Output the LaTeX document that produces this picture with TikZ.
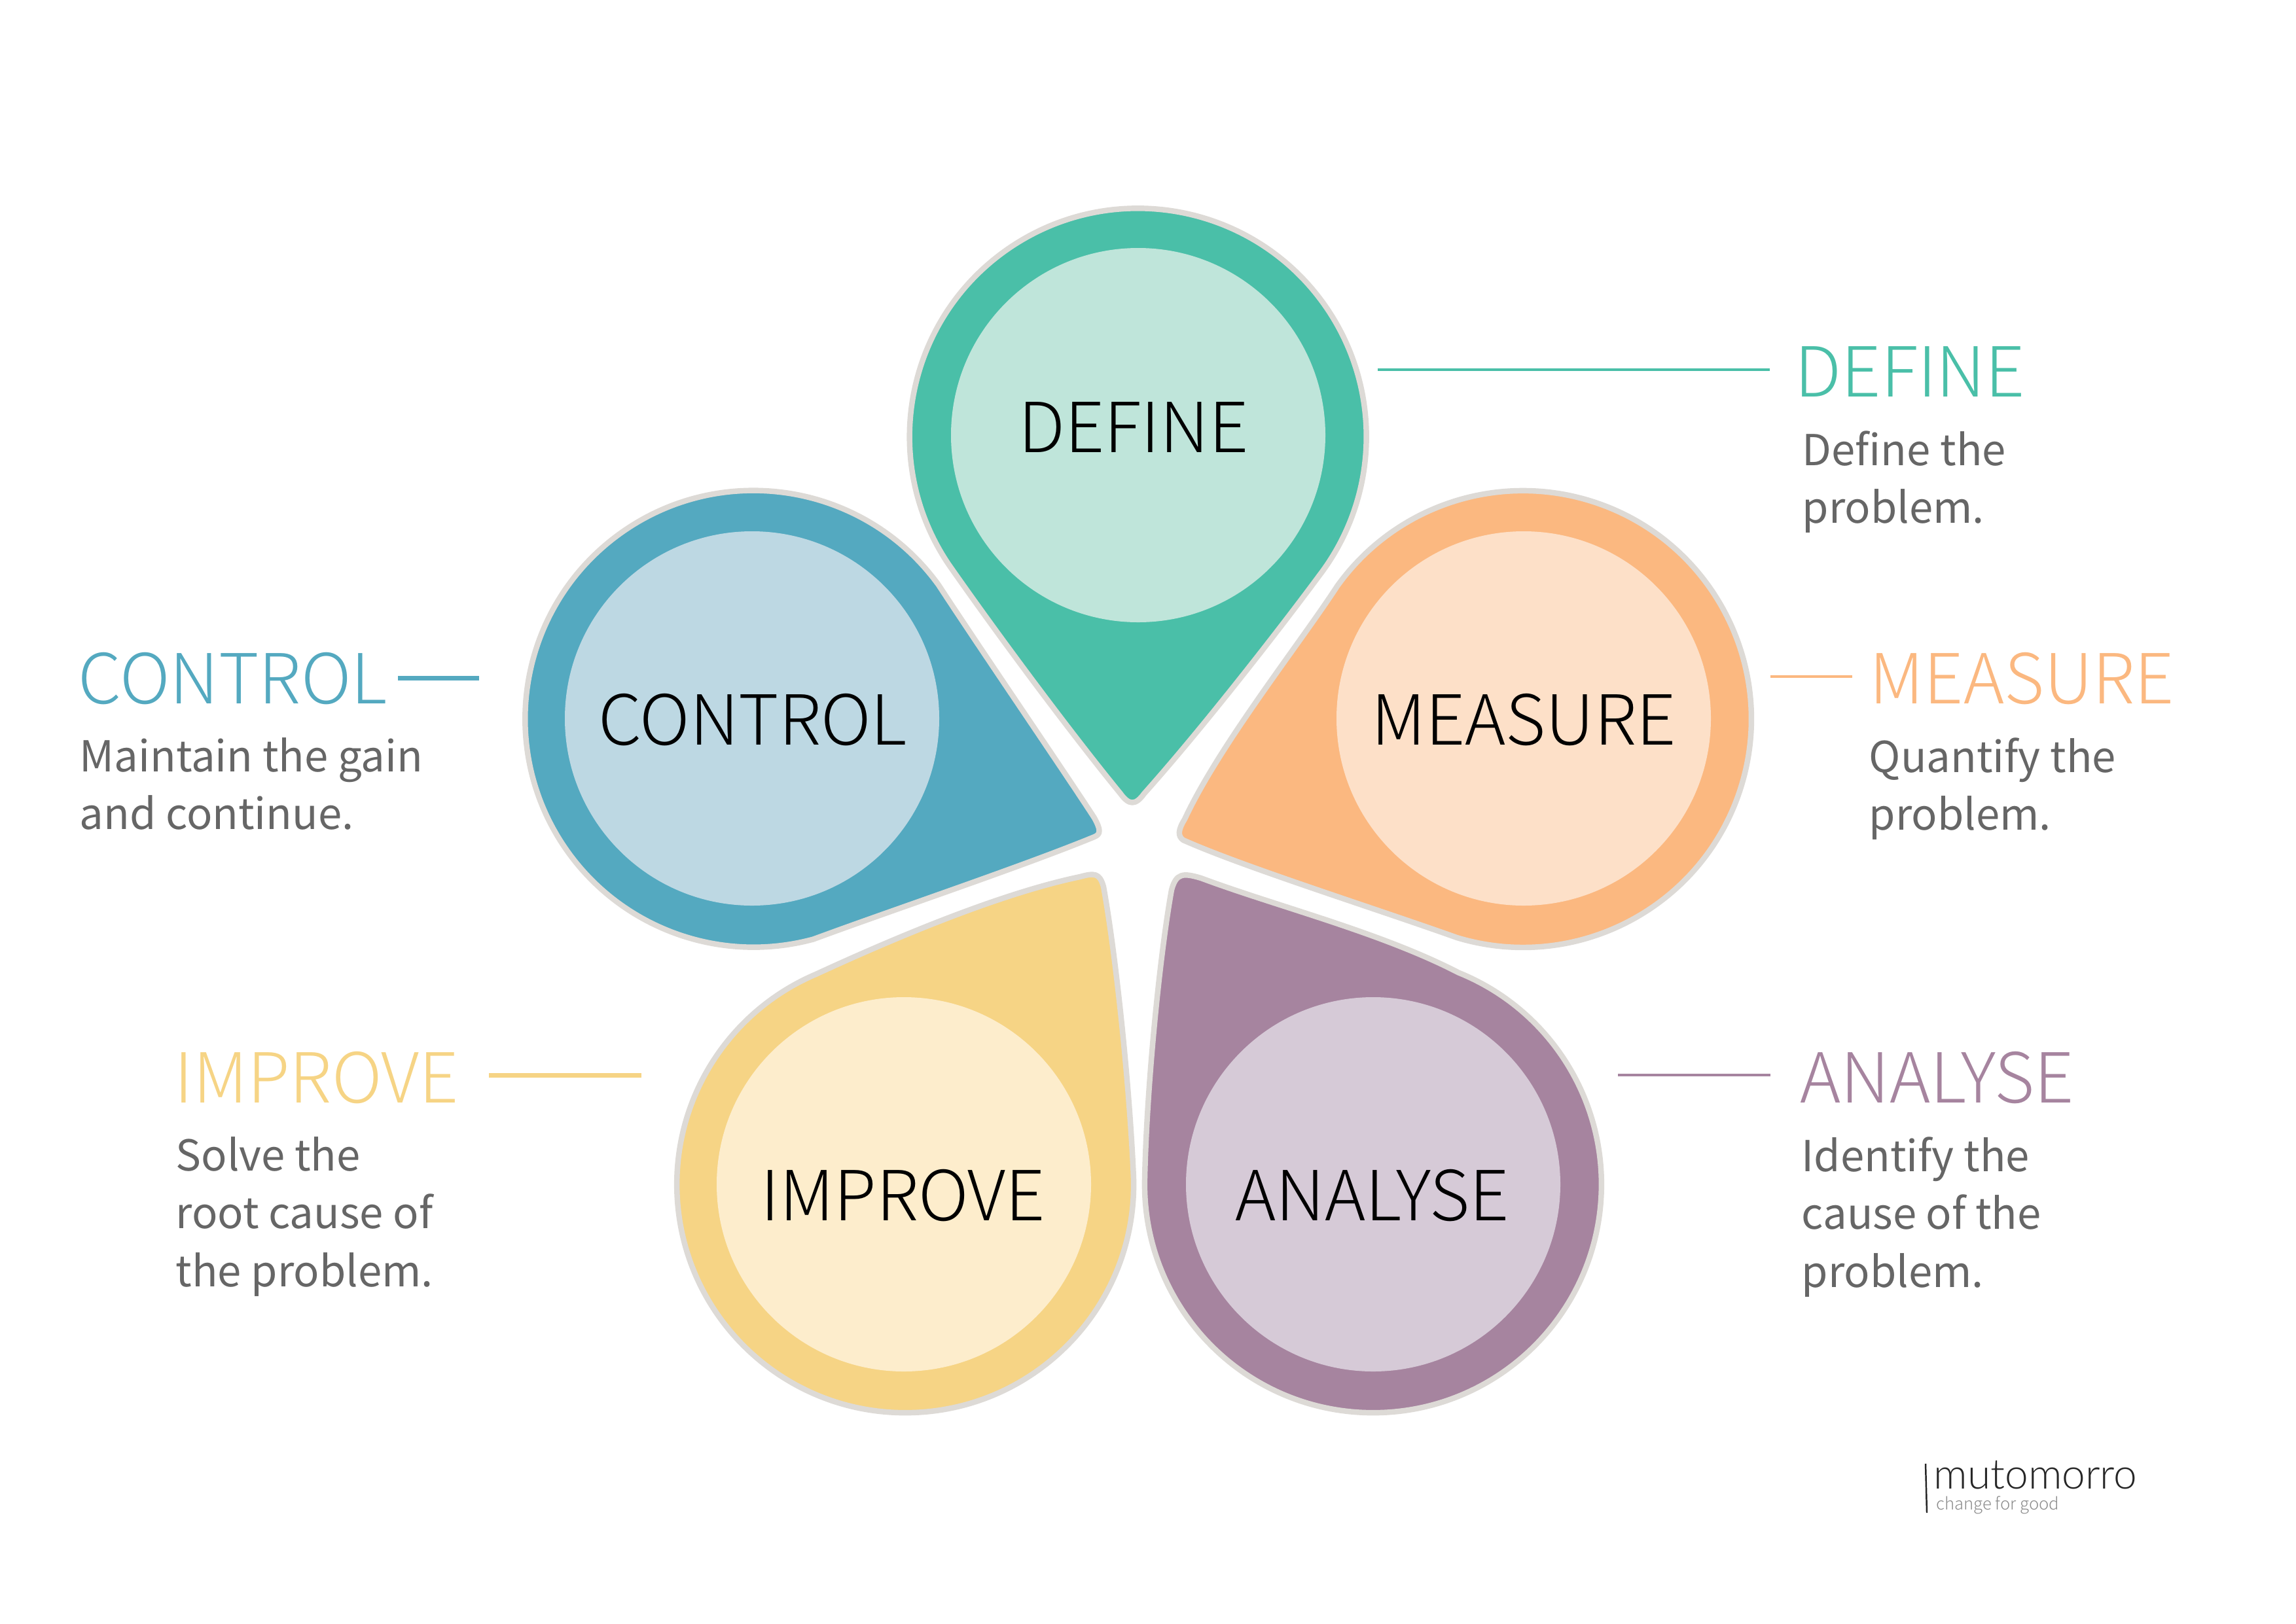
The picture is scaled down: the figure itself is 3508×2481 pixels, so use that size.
\documentclass[tikz,border=0pt]{standalone}
\usepackage{fontspec}
\setmainfont{Noto Sans CJK SC}
\newfontfamily\lightfont{Noto Sans CJK SC Light}
\newfontfamily\logofont{Lato Light}
\definecolor{rim}{HTML}{DDDAD6}
\definecolor{bodygrey}{HTML}{666666}
\definecolor{teal}{HTML}{4ABFA8}
\definecolor{tealpale}{HTML}{BFE5DA}
\definecolor{sky}{HTML}{54A9C0}
\definecolor{skypale}{HTML}{BDD8E3}
\definecolor{peach}{HTML}{FBB880}
\definecolor{peachpale}{HTML}{FDE0C8}
\definecolor{sand}{HTML}{F6D485}
\definecolor{sandpale}{HTML}{FDEDCC}
\definecolor{plum}{HTML}{A6849F}
\definecolor{plumpale}{HTML}{D6CAD7}
\tikzset{
    petal/.style={draw=rim,line width=2.4pt,line join=round},
    incircle/.style={anchor=base,inner sep=0pt,font=\lightfont\fontsize{30}{36}\selectfont},
    title/.style={anchor=base west,inner sep=0pt,font=\lightfont\fontsize{30}{36}\selectfont},
    blurb/.style={anchor=north west,inner sep=0pt,align=left,text=bodygrey,font=\fontsize{18.55}{25.1}\selectfont}
}
\begin{document}
\begin{tikzpicture}[x=0.01cm,y=-0.01cm]
            \useasboundingbox (0,0) rectangle (3508,2481);
            \coordinate (D) at (1739,665);
            \coordinate (C) at (1149,1098);
            \coordinate (M) at (2328,1098);
            \coordinate (I) at (1381,1810);
            \coordinate (A) at (2098,1810);
            \draw[petal,fill=teal] (1712,1213) .. controls (1640,1125) and (1530,978) .. (1449,862)
                arc[start angle=146.1,end angle=397.3,radius=349]
                .. controls (1960,955) and (1840,1110) .. (1748,1213)
                .. controls (1735,1231) and (1725,1231) .. (1712,1213) -- cycle;
            \draw[petal,fill=sky] (1672,1250) .. controls (1630,1185) and (1500,995) .. (1434,894)
                arc[start angle=-35.9,end angle=-285.2,radius=349]
                .. controls (1360,1392) and (1560,1325) .. (1672,1279)
                .. controls (1682,1275) and (1682,1268) .. (1672,1250) -- cycle;
            \draw[petal,fill=peach] (1808,1284) .. controls (1900,1325) and (2100,1388) .. (2226,1433)
                arc[start angle=106.8,end angle=-144.4,radius=349]
                .. controls (1985,985) and (1862,1140) .. (1810,1252)
                .. controls (1800,1268) and (1799,1278) .. (1808,1284) -- cycle;
            \draw[petal,fill=plum] (1749,1801)
                arc[start angle=181.5,end angle=-68,radius=349]
                .. controls (2110,1425) and (1950,1385) .. (1835,1342)
                .. controls (1808,1334) and (1797,1334) .. (1790,1360)
                .. controls (1772,1460) and (1752,1660) .. (1749,1801) -- cycle;
            \draw[petal,fill=sand] (1732,1801)
                arc[start angle=-1.5,end angle=247,radius=349]
                .. controls (1370,1432) and (1530,1365) .. (1650,1340)
                .. controls (1672,1334) and (1680,1334) .. (1686,1355)
                .. controls (1705,1460) and (1726,1660) .. (1732,1801) -- cycle;
            \fill[tealpale] (D) circle[radius=286];
            \fill[skypale] (C) circle[radius=286];
            \fill[peachpale] (M) circle[radius=286];
            \fill[sandpale] (I) circle[radius=286];
            \fill[plumpale] (A) circle[radius=286];
            \node[incircle] (definein) at (1732,691) {DEFINE};
            \node[incircle] (controlin) at (1150,1138) {CONTROL};
            \node[incircle] (measurein) at (2328,1138) {MEASURE};
            \node[incircle] (improvein) at (1380,1865) {IMPROVE};
            \node[incircle] (analysein) at (2097,1865) {ANALYSE};
            \node[title,text=teal] (definetitle) at (2742,606) {DEFINE};
            \node[title,text=sky] (controltitle) at (119,1075) {CONTROL};
            \node[title,text=peach] (measuretitle) at (2856,1075) {MEASURE};
            \node[title,text=sand] (improvetitle) at (266,1685) {IMPROVE};
            \node[title,text=plum] (analysetitle) at (2750,1685) {ANALYSE};
            \node[blurb] (defineblurb) at (2753,658) {Define the\\problem.};
            \node[blurb] (controlblurb) at (121,1127) {Maintain the gain\\and continue.};
            \node[blurb] (measureblurb) at (2855,1127) {Quantify the\\problem.};
            \node[blurb] (improveblurb) at (268,1737) {Solve the\\root cause of\\the problem.};
            \node[blurb] (analyseblurb) at (2752,1737) {Identify the\\cause of the\\problem.};
            \coordinate (D1) at (2105,565);
            \coordinate (D2) at (2704,565);
            \coordinate (C1) at (608,1036);
            \coordinate (C2) at (732,1036);
            \coordinate (M1) at (2705,1034);
            \coordinate (M2) at (2830,1034);
            \coordinate (I1) at (747,1643);
            \coordinate (I2) at (980,1643);
            \coordinate (A1) at (2472,1643);
            \coordinate (A2) at (2705,1643);
            \draw[teal,line width=1.2pt] (D1) -- (D2);
            \draw[sky,line width=2pt] (C1) -- (C2);
            \draw[peach,line width=1.2pt] (M1) -- (M2);
            \draw[sand,line width=2pt] (I1) -- (I2);
            \draw[plum,line width=1.2pt] (A1) -- (A2);
            \coordinate (L1) at (2942,2237);
            \coordinate (L2) at (2944,2312);
            \draw[black!85,line width=0.7pt] (L1) -- (L2);
            \node[anchor=base west,inner sep=0pt,text=black!85,font=\logofont\fontsize{18.2}{20}\selectfont] (logo) at (2954,2275) {mutomorro};
            \node[anchor=base west,inner sep=0pt,text=black!45,font=\lightfont\fontsize{7.3}{10}\selectfont] (slogan) at (2958,2307) {change for good};
\end{tikzpicture}
\end{document}
